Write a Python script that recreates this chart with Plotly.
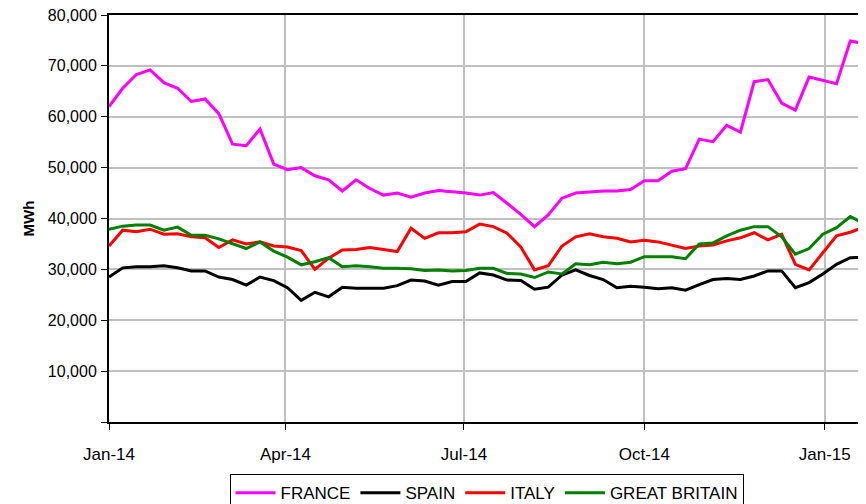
import pandas as pd
import plotly.graph_objects as go

# Weekly dates starting 1 Jan 2014
dates = pd.date_range("2014-01-01", periods=56, freq="7D")

france = [62000, 65600, 68300, 69200, 66700, 65600, 63000, 63500, 60600, 54600,
          54300, 57600, 50700, 49600, 50000, 48400, 47600, 45400, 47600, 45900,
          44600, 45000, 44200, 45000, 45500, 45300, 45000, 44600, 45100, 43000,
          40800, 38400, 40700, 44000, 45000, 45200, 45400, 45400, 45700, 47400,
          47400, 49300, 49800, 55600, 55100, 58300, 57000, 66900, 67300, 62700,
          61300, 67800, 67200, 66500, 74900, 74400]

spain = [28500, 30300, 30500, 30500, 30700, 30300, 29700, 29700, 28500, 28000,
         26900, 28500, 27800, 26400, 23900, 25500, 24600, 26500, 26300, 26300,
         26300, 26800, 27900, 27700, 26900, 27600, 27600, 29300, 28900, 27900,
         27800, 26100, 26500, 28900, 29900, 28800, 28000, 26400, 26700, 26500,
         26200, 26400, 25900, 27000, 28000, 28200, 28000, 28700, 29700, 29700,
         26400, 27400, 29100, 31000, 32300, 32400]

italy = [34600, 37700, 37400, 37900, 36900, 37000, 36400, 36200, 34300, 35800,
         35000, 35400, 34600, 34400, 33700, 30000, 32200, 33800, 33900, 34300,
         33900, 33500, 38100, 36100, 37200, 37200, 37400, 38900, 38400, 37100,
         34400, 29900, 30700, 34600, 36400, 37000, 36400, 36100, 35400, 35700,
         35400, 34700, 34100, 34600, 34800, 35600, 36200, 37200, 35800, 36900,
         31000, 29900, 33300, 36600, 37300, 38300]

great_britain = [37900, 38500, 38700, 38700, 37700, 38300, 36700, 36700, 36000, 35000,
                 34100, 35400, 33600, 32400, 30900, 31500, 32300, 30500, 30700, 30500,
                 30200, 30200, 30100, 29800, 29900, 29700, 29800, 30200, 30200, 29200,
                 29100, 28400, 29500, 29100, 31100, 30900, 31400, 31100, 31400, 32500,
                 32500, 32500, 32100, 35000, 35200, 36600, 37700, 38400, 38400, 36400,
                 33000, 34100, 36900, 38200, 40400, 39000]

series_names = ["FRANCE", "SPAIN", "ITALY", "GREAT BRITAIN"]
series_values = [france, spain, italy, great_britain]
series_colors = ["#FF00FF", "#000000", "#FF0000", "#008000"]

x_tickvals = ["2014-01-01", "2014-04-01", "2014-07-01", "2014-10-01", "2015-01-01"]
x_ticktext = ["Jan-14", "Apr-14", "Jul-14", "Oct-14", "Jan-15"]
y_tickvals = [0, 10000, 20000, 30000, 40000, 50000, 60000, 70000, 80000]
y_ticktext = ["", "10,000", "20,000", "30,000", "40,000", "50,000", "60,000", "70,000", "80,000"]

fig = go.Figure()
for name, vals, col in zip(series_names, series_values, series_colors):
    fig.add_trace(go.Scatter(x=dates, y=vals, name=name, mode="lines",
                             line=dict(color=col, width=3)))

# The page body has an 8px margin, so the figure is sized to fit 866x504 after that offset.
font_family = "Liberation Sans, Arial, sans-serif"
fig.update_layout(
    width=858, height=496,
    margin=dict(l=101, r=2, t=7, b=82, autoexpand=False),
    paper_bgcolor="white", plot_bgcolor="white",
    font=dict(family=font_family, color="black", size=16),
    showlegend=True,
    legend=dict(orientation="h", x=0.5, xanchor="center", y=-0.128, yanchor="top",
                bordercolor="black", borderwidth=1, font=dict(size=17),
                itemwidth=40, tracegroupgap=0),
    xaxis=dict(range=["2014-01-01", "2015-01-21"], tickvals=x_tickvals, ticktext=x_ticktext,
               showgrid=True, gridcolor="#c0c0c0", gridwidth=1.5,
               showline=True, linecolor="black", linewidth=2, mirror=True,
               ticks="outside", ticklen=6, tickcolor="black", tickfont=dict(size=17),
               ticklabelstandoff=10, automargin=False,
               zeroline=False),
    yaxis=dict(range=[0, 80000], tickvals=y_tickvals, ticktext=y_ticktext,
               showgrid=True, gridcolor="#c0c0c0", gridwidth=1.5,
               showline=True, linecolor="black", linewidth=2, mirror=True,
               ticks="outside", ticklen=6, tickcolor="black", tickfont=dict(size=16),
               ticklabelstandoff=1, automargin=False, ticklabeloverflow="allow",
               zeroline=False,
               title=dict(text="<b>MWh</b>", font=dict(size=15), standoff=10)),
)

fig.write_html("out.html")
